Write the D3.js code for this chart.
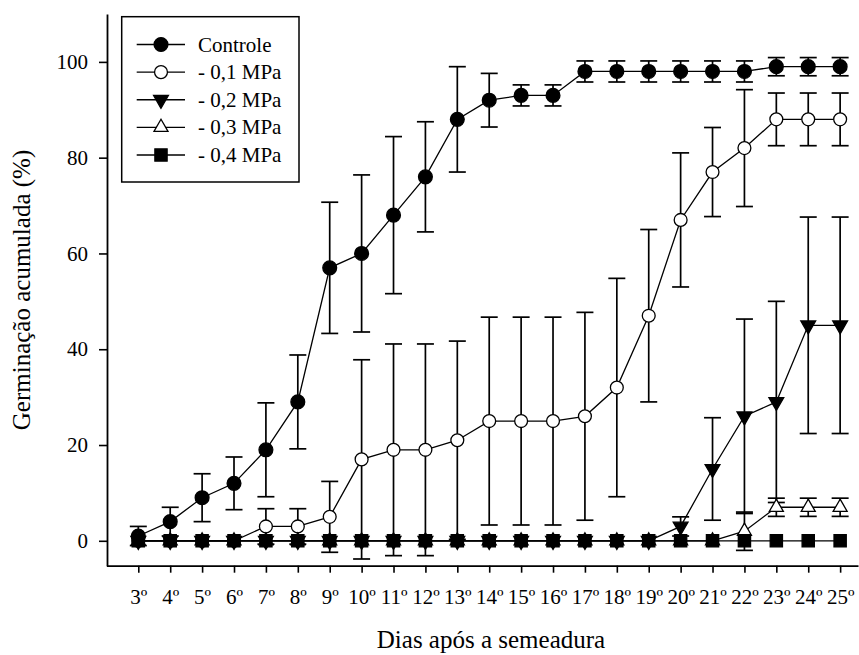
<!DOCTYPE html>
<html>
<head>
<meta charset="utf-8">
<script src="https://cdn.jsdelivr.net/npm/d3@7"></script>
<style>
  html, body { margin: 0; padding: 0; background: #fff; }
  svg { display: block; }
  text { font-family: "Liberation Serif", "Times New Roman", serif; fill: #000; }
</style>
</head>
<body>
<svg id="chart" width="859" height="655"></svg>
<script>
// ---- data ----
const days = [3,4,5,6,7,8,9,10,11,12,13,14,15,16,17,18,19,20,21,22,23,24,25];
const tickLabels = ["3º","4º","5º","6º","7º","8º","9º","10º","11º","12º","13º","14º","15º","16º","17º","18º","19º","20º","21º","22º","23º","24º","25º"];
const yTicks = [0,20,40,60,80,100];
const seriesNames = ["Controle","- 0,1 MPa","- 0,2 MPa","- 0,3 MPa","- 0,4 MPa"];

const controle    = [1,4,9,12,19,29,57,60,68,76,88,92,93,93,98,98,98,98,98,98,99,99,99];
const controleErr = [2,3,5,5.5,9.8,9.8,13.7,16.4,16.4,11.5,11,5.6,2.2,2.2,2.2,2.2,2.2,2.2,2.2,2.2,1.9,1.9,1.9];
const mpa01       = [0,0,0,0,3,3,5,17,19,19,21,25,25,25,26,32,47,67,77,82,88,88,88];
const mpa01Err    = [0,0,0,0,3.7,3.7,7.4,20.8,22.1,22.1,20.7,21.7,21.7,21.7,21.7,22.8,18,14,9.3,12.2,5.5,5.5,5.5];
const mpa02       = [0,0,0,0,0,0,0,0,0,0,0,0,0,0,0,0,0,3,15,26,29,45,45];
const mpa02Err    = [0,0,0,0,0,0,0,0,0,0,0,0,0,0,0,0,0,2,10.7,20.3,21,22.6,22.6];
const mpa03       = [0,0,0,0,0,0,0,0,0,0,0,0,0,0,0,0,0,0,0,2,7,7,7];
const mpa03Err    = [0,0,0,0,0,0,0,0,0,0,0,0,0,0,0,0,0,0,0,4,1.9,1.9,1.9];
const mpa04       = [0,0,0,0,0,0,0,0,0,0,0,0,0,0,0,0,0,0,0,0,0,0,0];
const mpa04Err    = [0,0,0,0,0,0,0,0,0,0,0,0,0,0,0,0,0,0,0,0,0,0,0];

const seriesValues = [controle, mpa01, mpa02, mpa03, mpa04];
const seriesErrors = [controleErr, mpa01Err, mpa02Err, mpa03Err, mpa04Err];

// ---- styles ----
const markerStyles = [
  {type: d3.symbolCircle,   fill: "#000", rotate: 0,   size: 150},
  {type: d3.symbolCircle,   fill: "#fff", rotate: 0,   size: 130},
  {type: d3.symbolTriangle, fill: "#000", rotate: 180, size: 95},
  {type: d3.symbolTriangle, fill: "#fff", rotate: 0,   size: 85},
  {type: d3.symbolSquare,   fill: "#000", rotate: 0,   size: 150}
];

const svg = d3.select("#chart");
svg.append("rect").attr("width", 859).attr("height", 655).attr("fill", "#fff");

const x = d3.scaleLinear().domain([2, 25.56]).range([106.4, 858]);
const y = d3.scaleLinear().domain([-5.2, 110]).range([565.7, 14]);

// axes
const xAxis = svg.append("g").attr("transform", "translate(0,565.7)")
  .call(d3.axisBottom(x).tickValues(days).tickFormat((d, i) => tickLabels[i])
    .tickSize(7).tickSizeOuter(0).tickPadding(16));
const yAxis = svg.append("g").attr("transform", "translate(107,0)")
  .call(d3.axisLeft(y).tickValues(yTicks).tickSize(8).tickSizeOuter(0).tickPadding(11));
[xAxis, yAxis].forEach(g => {
  g.select(".domain").attr("stroke", "#000").attr("stroke-width", 1.8);
  g.selectAll(".tick line").attr("stroke", "#000").attr("stroke-width", 1.6);
  g.selectAll(".tick text").style("font-family", "'Liberation Serif', serif").style("font-size", "21px").attr("fill", "#000");
});

// series
const line = d3.line().x((d) => x(d.day)).y((d) => y(d.v));
seriesValues.forEach((vals, s) => {
  const errs = seriesErrors[s];
  const pts = days.map((d, i) => ({day: d, v: vals[i], e: errs[i]}));
  const g = svg.append("g");
  // error bars
  const eb = g.selectAll("g.eb").data(pts.filter(p => p.e > 0)).join("g");
  eb.append("line").attr("x1", p => x(p.day)).attr("x2", p => x(p.day))
    .attr("y1", p => y(p.v - p.e)).attr("y2", p => y(p.v + p.e))
    .attr("stroke", "#000").attr("stroke-width", 1.7);
  [1, -1].forEach(sg => {
    eb.append("line").attr("x1", p => x(p.day) - 8.5).attr("x2", p => x(p.day) + 8.5)
      .attr("y1", p => y(p.v + sg * p.e)).attr("y2", p => y(p.v + sg * p.e))
      .attr("stroke", "#000").attr("stroke-width", 1.7);
  });
  // connecting line
  g.append("path").datum(pts).attr("d", line).attr("fill", "none")
    .attr("stroke", "#000").attr("stroke-width", 1.3);
  // markers
  const ms = markerStyles[s];
  g.selectAll("path.m").data(pts).join("path").attr("class", "m")
    .attr("d", d3.symbol().type(ms.type).size(ms.size))
    .attr("transform", p => `translate(${x(p.day)},${y(p.v)}) rotate(${ms.rotate})`)
    .attr("fill", ms.fill).attr("stroke", "#000").attr("stroke-width", 1.3);
});

// legend
const lg = svg.append("g");
lg.append("rect").attr("x", 121.7).attr("y", 16.7).attr("width", 177.3).attr("height", 165.3)
  .attr("fill", "#fff").attr("stroke", "#000").attr("stroke-width", 1.5);
const legendY = d3.scalePoint().domain(seriesNames).range([44.5, 155]);
seriesNames.forEach((name, s) => {
  const cy = legendY(name);
  lg.append("line").attr("x1", 136.7).attr("x2", 185).attr("y1", cy).attr("y2", cy)
    .attr("stroke", "#000").attr("stroke-width", 1.3);
  const ms = markerStyles[s];
  lg.append("path").attr("d", d3.symbol().type(ms.type).size(ms.size))
    .attr("transform", `translate(161,${cy}) rotate(${ms.rotate})`)
    .attr("fill", ms.fill).attr("stroke", "#000").attr("stroke-width", 1.3);
  lg.append("text").attr("x", 198).attr("y", cy + 7).style("font-size", "21px").text(name);
});

// axis titles
svg.append("text").attr("x", 491).attr("y", 648).attr("text-anchor", "middle")
  .style("font-size", "25px").text("Dias após a semeadura");
svg.append("text").attr("transform", "translate(30,290) rotate(-90)").attr("text-anchor", "middle")
  .style("font-size", "25px").text("Germinação acumulada (%)");
</script>
</body>
</html>
